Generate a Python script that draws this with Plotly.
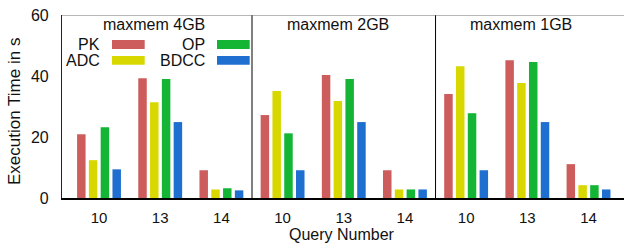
import plotly.graph_objects as go

panels = ["maxmem 4GB", "maxmem 2GB", "maxmem 1GB"]
queries = ["10", "13", "14"]
series = ["PK", "ADC", "OP", "BDCC"]
colors = ["#cd5c5c", "#d8d800", "#14b434", "#1f6fd0"]

# values[series][panel*3 + query]
pk   = [20.9, 39.3, 9.1,  27.2, 40.3, 9.1,  34.1, 45.2, 11.1]
adc  = [12.4, 31.4, 2.8,  35.1, 31.8, 2.8,  43.2, 37.7, 4.2]
op   = [23.2, 39.0, 3.2,  21.2, 39.0, 2.8,  27.8, 44.6, 4.2]
bdcc = [9.4,  24.9, 2.5,  9.1,  24.9, 2.8,  9.1,  24.9, 2.8]
values = [pk, adc, op, bdcc]

FONT = "Liberation Sans"
W, H = 624, 245
ML, MR, MT, MB = 62, 0, 15, 47
PW, PH = W - ML - MR, H - MT - MB

xpos = list(range(len(panels) * len(queries)))
ticktext = [q for _ in panels for q in queries]

fig = go.Figure()
for name, vals, col in zip(series, values, colors):
    fig.add_trace(go.Bar(x=xpos, y=vals, name=name, marker_color=col,
                         marker_line_width=0, showlegend=False))

def px_x(p):
    return (p - ML) / PW

def px_y(p):
    return (H - MB - p) / PH

shapes = []
# panel dividers
shapes.append(dict(type="line", xref="x", yref="y", x0=2.5, x1=2.5, y0=0, y1=60,
                   line=dict(color="#808080", width=2)))
shapes.append(dict(type="line", xref="x", yref="y", x0=5.5, x1=5.5, y0=0, y1=60,
                   line=dict(color="#000000", width=1)))
# top border
shapes.append(dict(type="line", xref="paper", yref="y", x0=0, x1=1, y0=60, y1=60,
                   line=dict(color="#707070", width=1.2)))

annotations = []
for i, p in enumerate(panels):
    annotations.append(dict(text=p, x=i * 3 + 1 - 0.1, y=57, xref="x", yref="y",
                            showarrow=False, xanchor="center", yanchor="middle",
                            font=dict(family=FONT, size=16, color="#111")))

# legend (text left, sample right), 2x2
leg_layout = [  # (label right px, sample x0 px, row y center px)
    (102, 112, 44.5), (102, 112, 60.3), (207, 217, 44.5), (207, 217, 60.3)
]
for name, col, (lx, sx, cy) in zip(series, colors, leg_layout):
    annotations.append(dict(text=name, x=px_x(lx), y=px_y(cy), xref="paper", yref="paper",
                            showarrow=False, xanchor="right", yanchor="middle",
                            font=dict(family=FONT, size=16, color="#111")))
    shapes.append(dict(type="rect", xref="paper", yref="paper",
                       x0=px_x(sx), x1=px_x(sx + 32.7), y0=px_y(cy - 4.4), y1=px_y(cy + 4.4),
                       fillcolor=col, line=dict(width=0)))

annotations.append(dict(text="Execution Time in s", x=px_x(15), y=px_y(112),
                        xref="paper", yref="paper", textangle=-90, showarrow=False,
                        xanchor="center", yanchor="middle",
                        font=dict(family=FONT, size=17, color="#111")))
annotations.append(dict(text="Query Number", x=px_x(342), y=px_y(234.5),
                        xref="paper", yref="paper", showarrow=False,
                        xanchor="center", yanchor="middle",
                        font=dict(family=FONT, size=16, color="#111")))

fig.update_layout(
    width=W, height=H, margin=dict(l=ML, r=MR, t=MT, b=MB),
    plot_bgcolor="white", paper_bgcolor="white",
    barmode="group", bargap=0.229, bargroupgap=0.28,
    font=dict(family=FONT, size=16, color="#111"),
    shapes=shapes, annotations=annotations,
    xaxis=dict(range=[-0.605, 8.58], tickvals=xpos, ticktext=ticktext,
               showgrid=False, zeroline=False, showline=True, linecolor="black",
               linewidth=1.5, ticks="", ticklabelstandoff=5,
               tickfont=dict(family=FONT, size=15, color="#111")),
    yaxis=dict(range=[0, 60], tickvals=[0, 20, 40, 60], showgrid=False, zeroline=False,
               showline=True, linecolor="#222", linewidth=1.2, ticks="",
               ticklabelstandoff=9,
               tickfont=dict(family=FONT, size=16, color="#111")),
)

fig.write_html("out.html", config={"displayModeBar": False},
               post_script="document.body.style.margin='0px';document.body.style.overflow='hidden';")
